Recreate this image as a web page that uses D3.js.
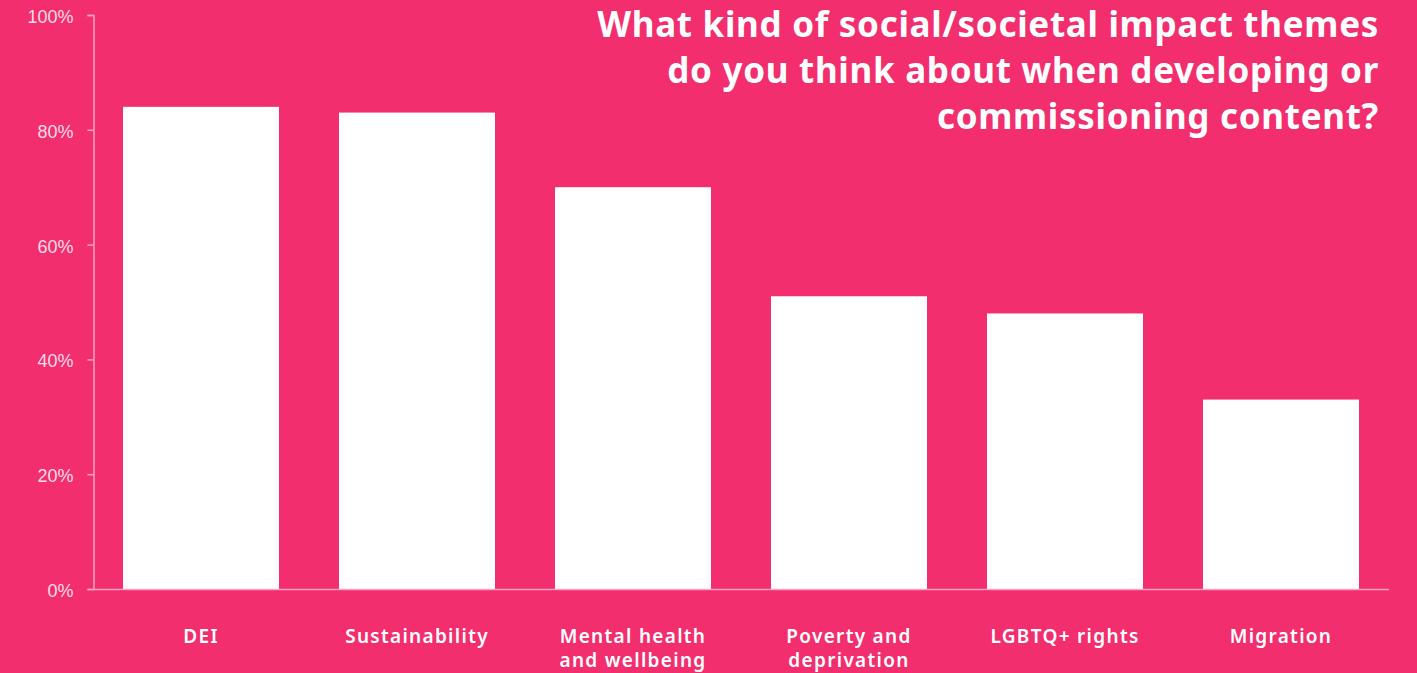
<!DOCTYPE html>
<html>
<head>
<meta charset="utf-8">
<script src="https://cdn.jsdelivr.net/npm/d3@7"></script>
<style>
  html, body { margin: 0; padding: 0; background: #f22e6f; }
  svg { display: block; }
</style>
</head>
<body>
<svg id="chart" width="1417" height="673"></svg>
<script>
const categories = ["DEI", "Sustainability", "Mental health and wellbeing", "Poverty and deprivation", "LGBTQ+ rights", "Migration"];
const labelLines = [["DEI"], ["Sustainability"], ["Mental health", "and wellbeing"], ["Poverty and", "deprivation"], ["LGBTQ+ rights"], ["Migration"]];
const values = [84, 83, 70, 51, 48, 33];
const yTicks = [0, 20, 40, 60, 80, 100];
const titleLines = ["What kind of social/societal impact themes", "do you think about when developing or", "commissioning content?"];

const svg = d3.select('#chart');
const bg = '#f22e6f';
const lineColor = '#f9a3c2';

svg.append('rect').attr('width', 1417).attr('height', 673).attr('fill', bg);

const x = d3.scaleBand()
  .domain(categories)
  .range([93, 1389])
  .paddingInner(60 / 216)
  .paddingOuter(30 / 216);

const y = d3.scaleLinear().domain([0, 100]).range([589, 15]);

// bars
svg.append('g').selectAll('rect').data(values).join('rect')
  .attr('x', (d, i) => x(categories[i]))
  .attr('y', d => y(d))
  .attr('width', x.bandwidth())
  .attr('height', d => y(0) - y(d))
  .attr('fill', '#ffffff');

// y axis
const yAxis = svg.append('g')
  .attr('transform', 'translate(93.5,0)')
  .call(d3.axisLeft(y).tickValues(yTicks).tickFormat(d => d + '%').tickSize(6).tickPadding(14));
yAxis.select('.domain').attr('stroke', lineColor).attr('stroke-width', 1.5);
yAxis.selectAll('.tick line').attr('stroke', lineColor).attr('stroke-width', 1.5);
yAxis.selectAll('.tick text')
  .attr('fill', '#fcdbe6')
  .attr('font-family', '"Liberation Sans", Arial, sans-serif')
  .attr('font-size', 18)
  .attr('dy', '0.42em');

// x axis line
svg.append('line')
  .attr('x1', 93).attr('x2', 1389)
  .attr('y1', 589.5).attr('y2', 589.5)
  .attr('stroke', lineColor).attr('stroke-width', 1.5);

// category labels
const lab = svg.append('g').selectAll('text').data(labelLines).join('text')
  .attr('x', (d, i) => x(categories[i]) + x.bandwidth() / 2)
  .attr('y', 643)
  .attr('text-anchor', 'middle')
  .attr('fill', '#ffffff')
  .attr('font-family', '"Noto Sans", sans-serif')
  .attr('font-weight', 600)
  .attr('font-size', 19)
  .attr('letter-spacing', 1.3);
lab.selectAll('tspan').data(d => d).join('tspan')
  .attr('x', function () { return d3.select(this.parentNode).attr('x'); })
  .attr('dy', (d, i) => i === 0 ? 0 : 23.5)
  .text(d => d);

// title
svg.append('g').selectAll('text').data(titleLines).join('text')
  .attr('x', 1379)
  .attr('y', (d, i) => 37 + i * 46)
  .attr('text-anchor', 'end')
  .attr('fill', '#ffffff')
  .attr('font-family', '"Noto Sans", sans-serif')
  .attr('font-weight', 700)
  .attr('font-size', 35)
  .attr('letter-spacing', 0.7)
  .text(d => d);
</script>
</body>
</html>
